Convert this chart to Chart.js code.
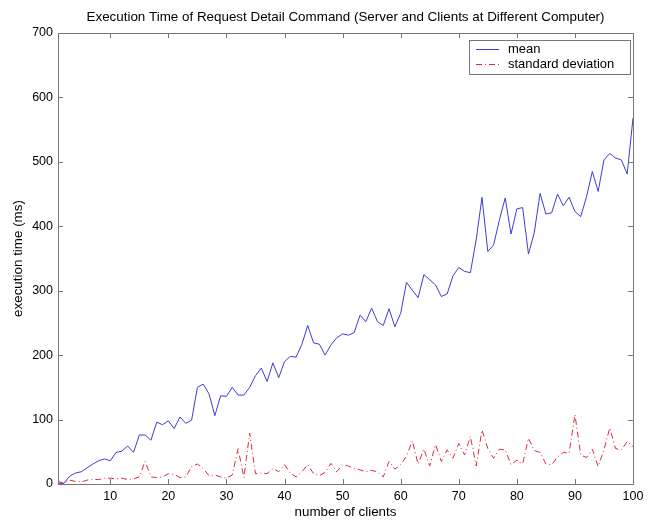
<!DOCTYPE html>
<html>
<head>
<meta charset="utf-8">
<script src="https://cdn.jsdelivr.net/npm/chart.js@4/dist/chart.umd.min.js"></script>
<style>
html,body{margin:0;padding:0;background:#fff;}
canvas{display:block;}
</style>
</head>
<body>
<canvas id="c" width="657" height="520"></canvas>
<script>
const chartTitle = "Execution Time of Request Detail Command (Server and Clients at Different Computer)";
const xTitle = "number of clients";
const yTitle = "execution time (ms)";
const seriesNames = ["mean", "standard deviation"];

const clients = [1,2,3,4,5,6,7,8,9,10,11,12,13,14,15,16,17,18,19,20,
  21,22,23,24,25,26,27,28,29,30,31,32,33,34,35,36,37,38,39,40,
  41,42,43,44,45,46,47,48,49,50,51,52,53,54,55,56,57,58,59,60,
  61,62,63,64,65,66,67,68,69,70,71,72,73,74,75,76,77,78,79,80,
  81,82,83,84,85,86,87,88,89,90,91,92,93,94,95,96,97,98,99,100];

const meanTime = [1,1,12,17,19,25,31,36,39,36,
  49,51,59,49,76,76,68,96,92,98,
  86,104,94,99,150,155,140,106,137,136,
  150,138,138,150,168,180,159,188,165,190,
  198,197,217,246,219,217,200,216,227,233,
  231,235,262,252,273,252,246,272,244,265,
  313,301,289,325,317,309,291,295,323,336,
  330,328,379,445,361,371,410,444,388,427,
  429,357,390,451,419,421,450,432,445,423,
  415,446,485,454,503,513,506,503,481,568];

const stdDev = [4,1,6,4,3,6,7,7,9,9,
  8,9,7,8,11,35,11,10,11,16,
  15,10,11,27,31,24,13,14,11,9,
  14,55,10,79,16,17,16,24,19,30,
  17,11,19,30,16,13,18,32,19,30,
  28,24,22,19,21,19,11,35,23,30,
  43,67,31,54,28,61,35,53,40,63,
  45,74,28,84,55,40,54,53,30,37,
  31,71,52,49,31,30,42,49,48,108,
  45,41,54,27,53,87,55,53,66,58];

const xTicks = [10,20,30,40,50,60,70,80,90,100];
const yTicks = [0,100,200,300,400,500,600,700];

const FONT = "Liberation Sans, Arial, sans-serif";
const AXIS = "#777";
const BLUE = "rgb(60,60,215)";
const RED = "rgb(225,40,60)";
const DASH = [6,3,1,3];

const decor = {
  id: "decor",
  afterDraw(chart) {
    const ctx = chart.ctx;
    const a = chart.chartArea;
    const xs = chart.scales.x, ys = chart.scales.y;
    ctx.save();
    ctx.strokeStyle = AXIS;
    ctx.lineWidth = 1;
    ctx.strokeRect(Math.round(a.left)+0.5, Math.round(a.top)+0.5, Math.round(a.right-a.left), Math.round(a.bottom-a.top));
    const tl = 5;
    ctx.beginPath();
    xTicks.forEach(v => {
      const px = Math.round(xs.getPixelForValue(v)) + 0.5;
      ctx.moveTo(px, a.bottom); ctx.lineTo(px, a.bottom - tl);
      ctx.moveTo(px, a.top); ctx.lineTo(px, a.top + tl);
    });
    yTicks.forEach(v => {
      const py = Math.round(ys.getPixelForValue(v)) + 0.5;
      ctx.moveTo(a.left, py); ctx.lineTo(a.left + tl, py);
      ctx.moveTo(a.right, py); ctx.lineTo(a.right - tl, py);
    });
    ctx.stroke();
    ctx.fillStyle = "#000";
    ctx.font = "13.4px " + FONT;
    ctx.textAlign = "center";
    ctx.textBaseline = "middle";
    const cx = (a.left + a.right) / 2;
    ctx.fillText(chartTitle, cx, 17);
    ctx.fillText(xTitle, cx, 512);
    ctx.save();
    ctx.translate(18, (a.top + a.bottom) / 2);
    ctx.rotate(-Math.PI / 2);
    ctx.fillText(yTitle, 0, 0);
    ctx.restore();
    const lx = 469, ly = 40, lw = 161, lh = 34;
    ctx.fillStyle = "#fff";
    ctx.fillRect(lx, ly, lw, lh);
    ctx.strokeStyle = AXIS;
    ctx.strokeRect(lx + 0.5, ly + 0.5, lw, lh);
    ctx.font = "13px " + FONT;
    const rows = [{y: 49, ds: chart.data.datasets[0]}, {y: 64, ds: chart.data.datasets[1]}];
    rows.forEach(r => {
      ctx.beginPath();
      ctx.strokeStyle = r.ds.borderColor;
      ctx.setLineDash(r.ds.borderDash || []);
      ctx.moveTo(476, r.y + 0.5); ctx.lineTo(499, r.y + 0.5);
      ctx.stroke();
      ctx.setLineDash([]);
      ctx.fillStyle = "#000";
      ctx.textAlign = "left";
      ctx.fillText(r.ds.label, 508, r.y);
    });
    ctx.restore();
  }
};

new Chart(document.getElementById("c"), {
  type: "line",
  data: {
    datasets: [
      { label: seriesNames[0], data: clients.map((c, i) => ({x: c, y: meanTime[i]})),
        borderColor: BLUE, borderWidth: 1, pointRadius: 0, tension: 0, fill: false },
      { label: seriesNames[1], data: clients.map((c, i) => ({x: c, y: stdDev[i]})),
        borderColor: RED, borderWidth: 1, borderDash: DASH, pointRadius: 0, tension: 0, fill: false }
    ]
  },
  options: {
    responsive: false,
    animation: false,
    devicePixelRatio: 1,
    layout: { padding: { top: 33, right: 24, left: 0, bottom: 0 } },
    plugins: { legend: { display: false }, title: { display: false }, tooltip: { enabled: false } },
    scales: {
      x: {
        type: "linear", min: 1, max: 100,
        afterBuildTicks: s => { s.ticks = xTicks.map(v => ({value: v})); },
        afterFit: s => { s.height = 36; },
        grid: { display: false, drawTicks: false },
        border: { display: false },
        ticks: { color: "#000", font: { family: FONT, size: 12.5 }, padding: 5, maxRotation: 0, autoSkip: false }
      },
      y: {
        type: "linear", min: 0, max: 700,
        afterBuildTicks: s => { s.ticks = yTicks.map(v => ({value: v})); },
        afterFit: s => { s.width = 58; },
        grid: { display: false, drawTicks: false },
        border: { display: false },
        ticks: { color: "#000", font: { family: FONT, size: 12.5 }, padding: 5 }
      }
    }
  },
  plugins: [decor]
});
</script>
</body>
</html>
